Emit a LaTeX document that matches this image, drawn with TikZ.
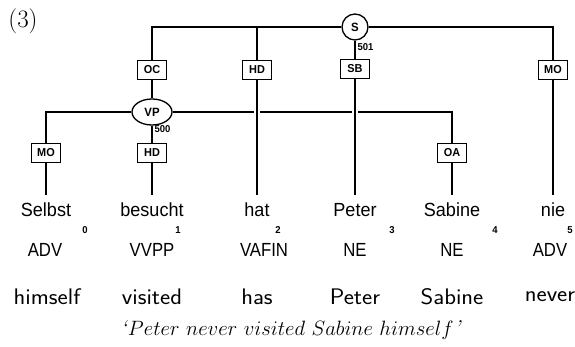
\documentclass[tikz,border=0pt]{standalone}
\usepackage{fontspec}
\newfontfamily\helv[FakeStretch=0.95]{Liberation Sans}
\newfontfamily\helvtag[FakeStretch=0.88]{Liberation Sans}
\newfontfamily\glossfont[FakeStretch=1.08]{Latin Modern Sans}
\usetikzlibrary{shapes.geometric}

\begin{document}
\begin{tikzpicture}[x=1pt, y=-1pt,
                    every node/.style = {inner sep=0pt},
                    func/.style = {shape=rectangle, draw, line width=1.4pt,
                        fill=white, minimum width=29pt, minimum height=19pt,
                        font=\helv\bfseries\fontsize{11.5}{13}\selectfont},
                    cat/.style = {draw, line width=1.3pt, fill=white,
                        font=\helv\bfseries\fontsize{12}{14}\selectfont},
                    word/.style = {font=\helv\fontsize{19}{21}\selectfont,
                        text height=14pt, text depth=4pt, outer ysep=8pt},
                    tag/.style = {font=\helvtag\fontsize{19}{21}\selectfont},
                    idx/.style = {font=\helv\bfseries\fontsize{10}{11}\selectfont},
                    gloss/.style = {font=\glossfont\fontsize{22.5}{25}\selectfont},
                    gap/.style = {preaction={draw=white, line width=6pt}},
                    line width=1.2pt]
    \useasboundingbox (0,0) rectangle (575,347);

    \node[font=\fontsize{25}{27}\selectfont] (num) at (23,21) {(3)};

    % categories
    \node[cat, circle, minimum size=26pt] (s) at (355,27) {S};
    \node[cat, ellipse, minimum width=40pt, minimum height=26pt] (vp) at (152,112) {VP};
    \node[idx, anchor=west] (s-id) at (357,47) {501};
    \node[idx, anchor=west] (vp-id) at (154,129) {500};

    % edge labels
    \node[func] (oc) at (152,70) {OC};
    \node[func] (hd1) at (257,70) {HD};
    \node[func] (sb) at (355,69) {SB};
    \node[func] (mo2) at (553,70) {MO};
    \node[func] (mo1) at (46,153) {MO};
    \node[func] (hd2) at (152,153) {HD};
    \node[func] (oa) at (452,153) {OA};

    % words
    \node[word] (w0) at (46,212) {Selbst};
    \node[word] (w1) at (152,212) {besucht};
    \node[word] (w2) at (257,212) {hat};
    \node[word] (w3) at (355,212) {Peter};
    \node[word] (w4) at (452,212) {Sabine};
    \node[word] (w5) at (553,212) {nie};

    \node[idx] (i0) at (85,230) {0};
    \node[idx] (i1) at (178,230) {1};
    \node[idx] (i2) at (278,230) {2};
    \node[idx] (i3) at (392,230) {3};
    \node[idx] (i4) at (495,230) {4};
    \node[idx] (i5) at (570,230) {5};

    \node[tag] (t0) at (45,250) {ADV};
    \node[tag] (t1) at (152,250) {VVPP};
    \node[tag] (t2) at (264,250) {VAFIN};
    \node[tag] (t3) at (355,250) {NE};
    \node[tag] (t4) at (452,250) {NE};
    \node[tag] (t5) at (550,250) {ADV};

    \node[gloss] (g0) at (47,297) {himself};
    \node[gloss] (g1) at (152,297) {visited};
    \node[gloss] (g2) at (257,297) {has};
    \node[gloss] (g3) at (355,297) {Peter};
    \node[gloss] (g4) at (452,297) {Sabine};
    \node[gloss] (g5) at (550,297) {never};

    \node[font=\fontsize{21.5}{24}\selectfont] (trans) at (291,330)
        {\textit{`}$Peter\ never\ visited\ Sabine\ himself$\textit{'}};

    % edges
    \draw (s) -| (oc);
    \draw (s) -| (hd1);
    \draw (s) -- (sb);
    \draw (s) -| (mo2);
    \draw (oc) -- (vp);
    \draw (vp) -| (mo1);
    \draw (vp) -- (hd2);
    \draw (vp) -| (oa);
    \draw (mo1) -- (w0);
    \draw (hd2) -- (w1);
    \draw[gap] (hd1) -- (w2);
    \draw[gap] (sb) -- (w3);
    \draw (oa) -- (w4);
    \draw (mo2) -- (w5);
\end{tikzpicture}
\end{document}
